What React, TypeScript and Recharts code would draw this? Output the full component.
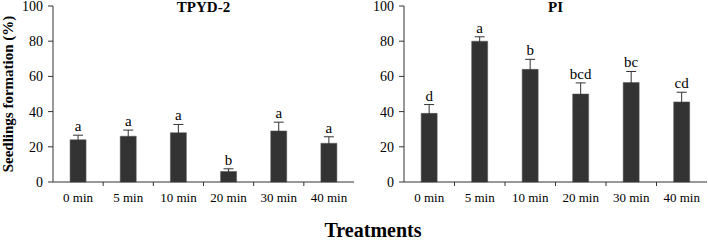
import { BarChart, Bar, XAxis, YAxis, ErrorBar, LabelList, Label } from "recharts";

const categories = ["0 min", "5 min", "10 min", "20 min", "30 min", "40 min"];

const tpydValues = [24, 26, 28, 6, 29, 22];
const tpydErrors = [2.6, 3.5, 4.7, 1.5, 5, 3.7];
const tpydLetters = ["a", "a", "a", "b", "a", "a"];

const piValues = [39, 80, 64, 50, 56.5, 45.5];
const piErrors = [5, 2.5, 5.7, 6.3, 6.3, 5.5];
const piLetters = ["d", "a", "b", "bcd", "bc", "cd"];

const yTicks = [0, 20, 40, 60, 80, 100];

const FONT = "'Liberation Serif', 'Times New Roman', serif";
const BAR = "#333333";

function buildRows(values: number[], errors: number[], letters: string[]) {
  return categories.map((name, i) => ({
    name,
    value: values[i],
    err: errors[i],
    letter: letters[i],
  }));
}

const tpydData = buildRows(tpydValues, tpydErrors, tpydLetters);
const piData = buildRows(piValues, piErrors, piLetters);

// x tick: label at the band centre, small tick line at the band's left edge
function BandTick(props: any) {
  const { x, y, payload, index, width, visibleTicksCount } = props;
  const half =
    payload && payload.offset ? payload.offset : width / (visibleTicksCount || 6) / 2;
  return (
    <g>
      {index > 0 && (
        <line x1={x - half} y1={y} x2={x - half} y2={y + 4} stroke="#333" strokeWidth={1} />
      )}
      <text x={x} y={y + 20} textAnchor="middle" fontFamily={FONT} fontSize={13} fill="#000">
        {payload.value}
      </text>
    </g>
  );
}

function makeLetter(errors: number[], values: number[]) {
  return (props: any) => {
    const { x, y, width, height, index, value } = props;
    const pxPerUnit = height / values[index];
    const top = y - errors[index] * pxPerUnit;
    return (
      <text
        x={x + width / 2}
        y={top - 4}
        textAnchor="middle"
        fontFamily={FONT}
        fontSize={15}
        fill="#000"
      >
        {value}
      </text>
    );
  };
}

function Panel(props: {
  data: any[];
  title: string;
  errors: number[];
  values: number[];
  width: number;
  axisWidth: number;
  marginRight: number;
  yLabel?: boolean;
}) {
  const { data, title, errors, values, width, axisWidth, marginRight, yLabel } = props;
  return (
    <BarChart
      width={width}
      height={212}
      data={data}
      margin={{ top: 6, right: marginRight, left: 0, bottom: 0 }}
      barCategoryGap="34%"
    >
      <XAxis
        dataKey="name"
        height={30}
        tickLine={false}
        tickSize={0}
        tickMargin={0}
        interval={0}
        axisLine={{ stroke: "#333" }}
        tick={<BandTick />}
      >
        <Label
          content={(p: any) => {
            const vb = p.viewBox;
            return (
              <text
                x={vb.x + vb.width / 2}
                y={12}
                textAnchor="middle"
                fontFamily={FONT}
                fontWeight="bold"
                fontSize={15}
                fill="#000"
              >
                {title}
              </text>
            );
          }}
        />
      </XAxis>
      <YAxis
        width={axisWidth}
        domain={[0, 100]}
        ticks={yTicks}
        interval={0}
        tickSize={5}
        tickMargin={5}
        axisLine={{ stroke: "#333" }}
        tickLine={{ stroke: "#333" }}
        tick={{ fontFamily: FONT, fontSize: 14, fill: "#000" }}
      >
        {yLabel && (
          <Label
            content={(p: any) => {
              const vb = p.viewBox;
              const cy = vb.y + vb.height / 2;
              return (
                <text
                  x={8}
                  y={cy}
                  transform={`rotate(-90, 8, ${cy})`}
                  textAnchor="middle"
                  dominantBaseline="central"
                  fontFamily={FONT}
                  fontWeight="bold"
                  fontSize={15}
                  fill="#000"
                >
                  Seedlings formation (%)
                </text>
              );
            }}
          />
        )}
      </YAxis>
      <Bar dataKey="value" fill={BAR} stroke="#555" strokeWidth={0.5} isAnimationActive={false}>
        <ErrorBar dataKey="err" width={5} stroke="#333" strokeWidth={1} />
        <LabelList dataKey="letter" content={makeLetter(errors, values)} />
      </Bar>
    </BarChart>
  );
}

export default function App() {
  return (
    <div
      style={{
        position: "absolute",
        left: 0,
        top: 0,
        width: 708,
        height: 242,
        background: "#fff",
        fontFamily: FONT,
      }}
    >
      <div style={{ position: "absolute", left: 0, top: 0 }}>
        <Panel
          data={tpydData}
          title="TPYD-2"
          errors={tpydErrors}
          values={tpydValues}
          width={360}
          axisWidth={53}
          marginRight={6}
          yLabel
        />
      </div>
      <div style={{ position: "absolute", left: 354, top: 0 }}>
        <Panel
          data={piData}
          title="PI"
          errors={piErrors}
          values={piValues}
          width={354}
          axisWidth={50}
          marginRight={1}
        />
      </div>
      <div
        style={{
          position: "absolute",
          left: 0,
          width: 746,
          top: 219,
          textAlign: "center",
          fontFamily: FONT,
          fontWeight: "bold",
          fontSize: 20,
          lineHeight: "22px",
          color: "#000",
        }}
      >
        Treatments
      </div>
    </div>
  );
}
